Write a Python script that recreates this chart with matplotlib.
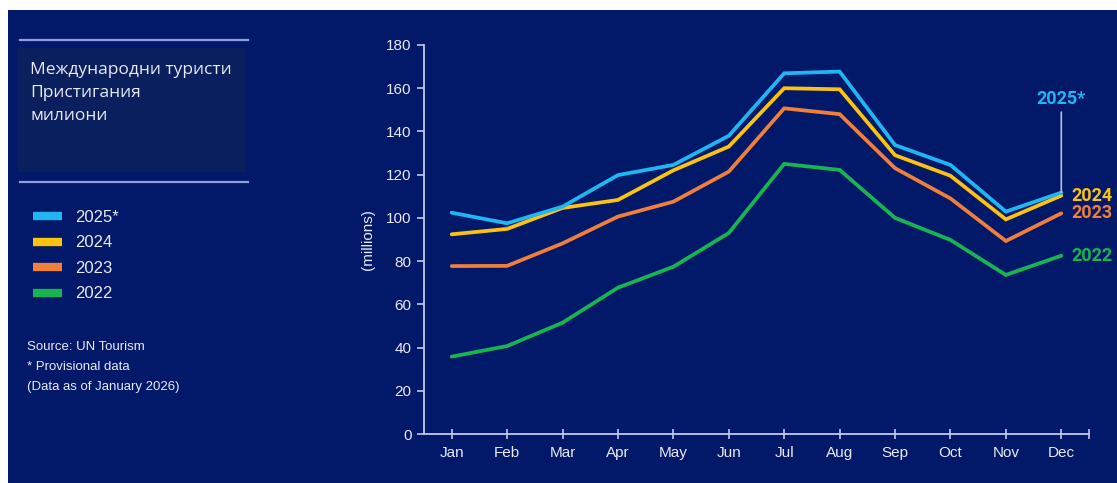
import matplotlib.pyplot as plt
from matplotlib.patches import Rectangle
from matplotlib.lines import Line2D

months = ["Jan", "Feb", "Mar", "Apr", "May", "Jun",
          "Jul", "Aug", "Sep", "Oct", "Nov", "Dec"]

y2025 = [102.4, 97.5, 105.2, 119.8, 124.5, 138, 166.9, 167.7, 133.7, 124.5, 102.9, 111.7]
y2024 = [92.4, 94.9, 104.6, 108.3, 122, 133, 160, 159.5, 129, 119.5, 99.3, 110.3]
y2023 = [77.7, 77.8, 88.2, 100.6, 107.5, 121.4, 150.7, 148, 123, 109, 89.3, 102.1]
y2022 = [35.8, 40.7, 51.5, 67.7, 77.4, 93, 125, 122.2, 100, 89.8, 73.6, 82.5]

series = [("2022", y2022, "#19b450"),
          ("2023", y2023, "#ef7f3a"),
          ("2024", y2024, "#fdc20f"),
          ("2025*", y2025, "#20b6f2")]

bg = "#021868"
axis_col = "#c3c8ea"
text_col = "#e8eaf6"

fig = plt.figure(figsize=(11.17, 4.83), dpi=100, facecolor="white")
fig.add_artist(Rectangle((8 / 1117, 0), 1, 1 - 10 / 483, transform=fig.transFigure,
                         facecolor=bg, edgecolor="none", zorder=-10))

# title panel
fig.add_artist(Rectangle((18 / 1117, 1 - 172 / 483), 227 / 1117, 124 / 483,
                         transform=fig.transFigure, facecolor="#0a1f5e",
                         edgecolor="none", zorder=-9))
for yy in (40, 182):
    fig.add_artist(Line2D([20 / 1117, 248 / 1117], [1 - yy / 483] * 2,
                          transform=fig.transFigure, color="#8f9fdc", lw=1.6))
for i, t in enumerate(["Международни туристи", "Пристигания", "милиони"]):
    fig.text(30 / 1117, 1 - (70 + 23 * i) / 483, t, color=text_col,
             fontsize=12.5, family="Open Sans", va="center", ha="left")

ax = fig.add_axes([424 / 1117, 1 - 434 / 483, 665 / 1117, 389 / 483])
ax.set_facecolor("none")

x = list(range(len(months)))
handles = []
for name, vals, col in series:
    ln, = ax.plot(x, vals, color=col, lw=2.7, label=name, solid_capstyle="round",
                  solid_joinstyle="miter")
    handles.append(ln)

ax.set_xlim(-0.5, 11.5)
ax.set_ylim(0, 180)
ax.set_xticks(x)
ax.set_xticklabels(months)
ax.set_xticks([11.5], minor=True)
ax.set_yticks(range(0, 181, 20))

for s in ("top", "right"):
    ax.spines[s].set_visible(False)
for s in ("left", "bottom"):
    ax.spines[s].set_color(axis_col)
    ax.spines[s].set_linewidth(1.3)

ax.tick_params(axis="x", which="both", direction="inout", length=7, width=1.2,
               color=axis_col, labelcolor=text_col, labelsize=11, pad=5)
ax.tick_params(axis="y", direction="out", length=5, width=1.2,
               color=axis_col, labelcolor=text_col, labelsize=11, pad=4)
for lab in ax.get_xticklabels() + ax.get_yticklabels():
    lab.set_family("Liberation Sans")

ax.set_ylabel("(millions)", color=text_col, fontsize=11, family="Liberation Sans")
ax.yaxis.set_label_coords(-0.074, 0.5)

# end labels
ax.annotate("2025*", xy=(11, y2025[-1]), xytext=(0, 61), textcoords="offset points",
            color="#20b6f2", fontsize=13, fontweight="bold", family="Roboto",
            ha="center", va="bottom",
            arrowprops=dict(arrowstyle="-", color="#b4bce8", lw=1.2,
                            shrinkA=1, shrinkB=0))
for name, vals, col in series[:3]:
    ax.annotate(name, xy=(11, vals[-1]), xytext=(7, 0), textcoords="offset points",
                color=col, fontsize=13, fontweight="bold", family="Roboto",
                ha="left", va="center")

leg = fig.legend(handles[::-1], [h.get_label() for h in handles[::-1]],
                 loc="upper left", bbox_to_anchor=(33 / 1117, 1 - 210 / 483),
                 frameon=False, fontsize=12, handlelength=1.75, handletextpad=0.75,
                 labelspacing=0.63, borderaxespad=0, borderpad=0)
for t in leg.get_texts():
    t.set_color(text_col)
    t.set_family("Liberation Sans")
for h in leg.legend_handles:
    h.set_linewidth(6)
    h.set_solid_capstyle("butt")

for i, t in enumerate(["Source: UN Tourism", "* Provisional data",
                       "(Data as of January 2026)"]):
    fig.text(27 / 1117, 1 - (347 + 20 * i) / 483, t, color=text_col,
             fontsize=9.5, family="Liberation Sans", va="center", ha="left")

fig.savefig("out.png", dpi=100, facecolor="white")
